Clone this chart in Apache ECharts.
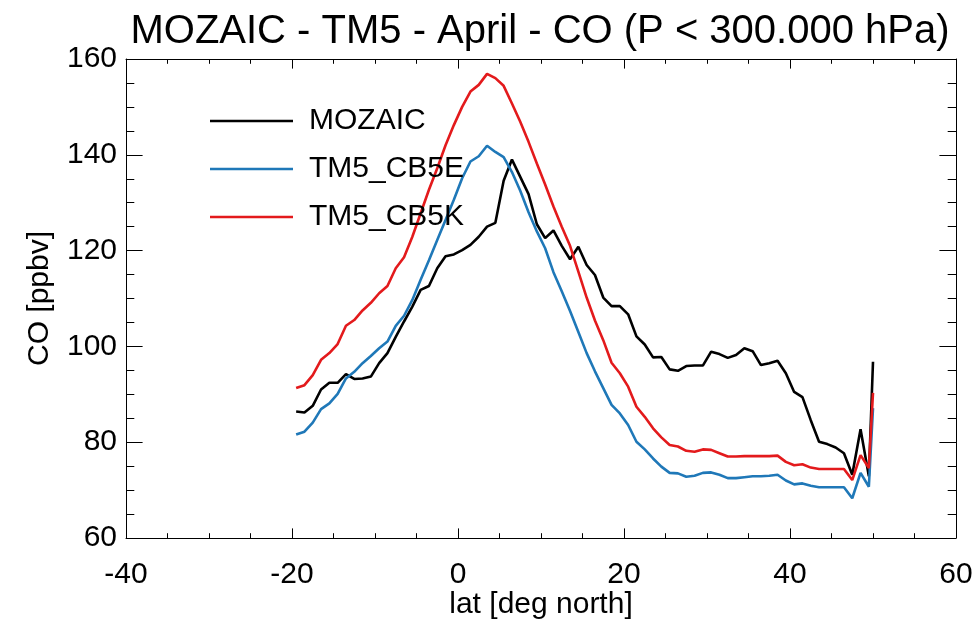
<!DOCTYPE html>
<html>
<head>
<meta charset="utf-8">
<script src="https://cdn.jsdelivr.net/npm/echarts@6/dist/echarts.min.js"></script>
<style>
html,body{margin:0;padding:0;background:#fff;}
#chart{width:978px;height:622px;}
</style>
</head>
<body>
<div id="chart"></div>
<script>
var lats = [-19.5,-18.5,-17.5,-16.5,-15.5,-14.5,-13.5,-12.5,-11.5,-10.5,
  -9.5,-8.5,-7.5,-6.5,-5.5,-4.5,-3.5,-2.5,-1.5,-0.5,
  0.5,1.5,2.5,3.5,4.5,5.5,6.5,7.5,8.5,9.5,
  10.5,11.5,12.5,13.5,14.5,15.5,16.5,17.5,18.5,19.5,
  20.5,21.5,22.5,23.5,24.5,25.5,26.5,27.5,28.5,29.5,
  30.5,31.5,32.5,33.5,34.5,35.5,36.5,37.5,38.5,39.5,
  40.5,41.5,42.5,43.5,44.5,45.5,46.5,47.5,48.5,49.5,
  50.0];

var mozaic = [86.4,86.2,87.6,91.0,92.4,92.4,94.2,93.2,93.3,93.7,
  96.5,98.6,102.0,105.2,108.3,111.8,112.6,116.3,118.8,119.2,
  120.1,121.2,122.9,125.0,125.8,134.6,139.0,135.4,131.8,125.5,
  122.6,124.2,121.0,118.2,120.8,117.0,114.9,110.2,108.4,108.4,
  106.7,102.1,100.4,97.7,97.8,95.2,94.9,95.9,96.0,96.0,
  98.9,98.4,97.6,98.2,99.6,99.0,96.1,96.5,97.0,94.4,
  90.5,89.4,84.6,80.1,79.6,78.9,77.7,73.2,82.7,72.9,
  96.8];

var tm5_cb5e = [81.6,82.2,84.1,86.9,88.1,90.1,93.3,94.7,96.5,98.0,
  99.6,101.0,104.3,106.4,109.7,113.9,118.0,122.2,126.4,130.6,
  135.1,138.6,139.7,141.9,140.6,139.5,136.4,132.5,128.0,124.0,
  120.5,115.5,111.5,107.4,103.0,98.6,94.8,91.3,87.8,86.0,
  83.6,80.1,78.5,76.6,74.9,73.6,73.5,72.8,73.0,73.6,
  73.7,73.2,72.5,72.5,72.7,72.9,72.9,73.0,73.2,72.0,
  71.2,71.4,70.9,70.6,70.6,70.6,70.6,68.3,73.6,70.7,
  87.1];

var tm5_cb5k = [91.3,91.9,94.0,97.2,98.6,100.5,104.3,105.5,107.5,109.1,
  111.1,112.6,116.3,118.6,122.9,127.8,132.7,137.2,142.0,146.2,
  150.0,153.2,154.6,156.9,156.0,154.4,150.7,146.9,142.7,138.2,
  133.8,129.2,125.0,121.0,115.6,110.2,105.4,101.3,96.6,94.4,
  91.6,87.4,85.3,82.9,81.0,79.4,79.1,78.2,78.0,78.5,
  78.4,77.7,77.0,77.0,77.1,77.1,77.1,77.1,77.2,75.9,
  75.2,75.4,74.7,74.4,74.4,74.4,74.4,72.1,77.3,74.6,
  90.3];

var seriesNames = ['MOZAIC','TM5_CB5E','TM5_CB5K'];
var seriesColors = ['#000000','#1f78b8','#e31a1c'];
var xTicks = {min:-40, max:60, step:20};
var yTicks = {min:60, max:160, step:20};

var FONT = 'Liberation Sans, Arial, Helvetica, sans-serif';

function pairs(vals){ return lats.map(function(x,i){ return [x, vals[i]]; }); }

function xAxisDef(pos, showLab){
  return {
    type:'value', position:pos, min:xTicks.min, max:xTicks.max, interval:xTicks.step,
    axisLine:{show:true, onZero:false, lineStyle:{color:'#000', width:1}},
    axisTick:{show:true, inside:true, length:9.6, lineStyle:{color:'#000', width:1}},
    minorTick:{show:true, splitNumber:4, length:4.8, lineStyle:{color:'#000', width:1}},
    splitLine:{show:false},
    axisLabel:{show:showLab, fontSize:30, color:'#000', margin:22, fontFamily:FONT},
    name: showLab ? 'lat [deg north]' : '',
    nameLocation:'middle', nameGap:52, nameMoveOverlap:false,
    nameTextStyle:{fontSize:30, color:'#000', fontFamily:FONT}
  };
}
function yAxisDef(pos, showLab){
  return {
    type:'value', position:pos, min:yTicks.min, max:yTicks.max, interval:yTicks.step,
    axisLine:{show:true, onZero:false, lineStyle:{color:'#000', width:1}},
    axisTick:{show:true, inside:true, length:16.6, lineStyle:{color:'#000', width:1}},
    minorTick:{show:true, splitNumber:4, length:8.3, lineStyle:{color:'#000', width:1}},
    splitLine:{show:false},
    axisLabel:{show:showLab, fontSize:30, color:'#000', margin:9, fontFamily:FONT},
    name: showLab ? 'CO [ppbv]' : '',
    nameLocation:'middle', nameGap:71, nameMoveOverlap:false,
    nameTextStyle:{fontSize:30, color:'#000', fontFamily:FONT}
  };
}

var chart = echarts.init(document.getElementById('chart'), null, {renderer:'canvas'});
chart.setOption({
  animation:false,
  backgroundColor:'#fff',
  title:{
    text:'MOZAIC - TM5 - April - CO (P < 300.000 hPa)',
    left:535, top:7, textAlign:'center',
    textStyle:{fontFamily:FONT, fontSize:40, fontWeight:'normal', color:'#000'}
  },
  grid:{left:126, right:22, top:59, bottom:84, containLabel:false, outerBoundsMode:'none'},
  legend:{
    orient:'vertical', left:205, top:101,
    icon:'rect', itemWidth:83, itemHeight:2.5, itemGap:18,
    data:seriesNames,
    textStyle:{fontSize:30, color:'#000', fontFamily:FONT, padding:[0,0,0,11]}
  },
  xAxis:[xAxisDef('bottom', true), xAxisDef('top', false)],
  yAxis:[yAxisDef('left', true), yAxisDef('right', false)],
  series:[
    {name:seriesNames[0], type:'line', data:pairs(mozaic), symbol:'none', color:seriesColors[0], lineStyle:{width:2.6, color:seriesColors[0]}, xAxisIndex:0, yAxisIndex:0, z:2},
    {name:seriesNames[1], type:'line', data:pairs(tm5_cb5e), symbol:'none', color:seriesColors[1], lineStyle:{width:2.6, color:seriesColors[1]}, xAxisIndex:0, yAxisIndex:0, z:2},
    {name:seriesNames[2], type:'line', data:pairs(tm5_cb5k), symbol:'none', color:seriesColors[2], lineStyle:{width:2.6, color:seriesColors[2]}, xAxisIndex:0, yAxisIndex:0, z:2}
  ]
});
</script>
</body>
</html>
